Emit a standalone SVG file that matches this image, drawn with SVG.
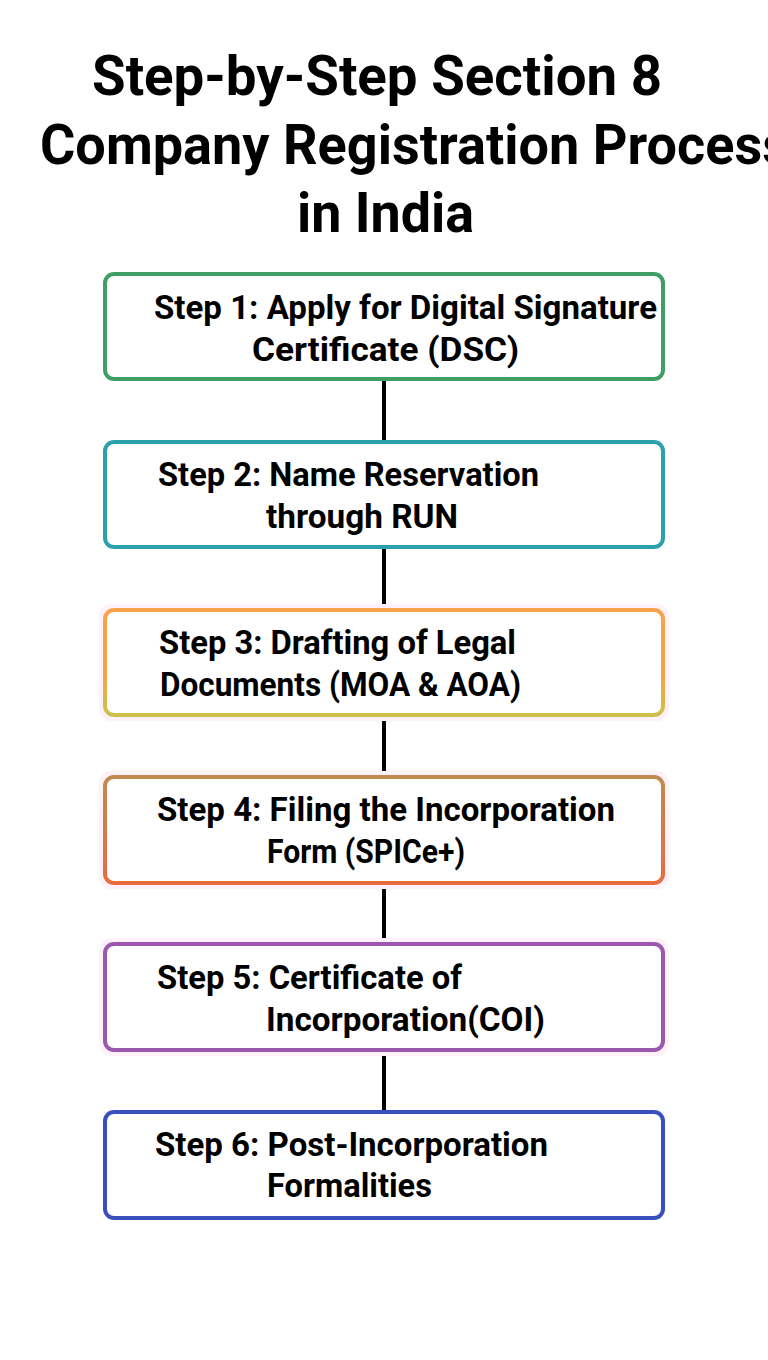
<svg xmlns="http://www.w3.org/2000/svg" width="768" height="1360" viewBox="0 0 768 1360">
<style>
.title{font-family:Roboto,"Liberation Sans",sans-serif;font-weight:700;font-size:55px;fill:#000}
.lbl{font-family:Roboto,"Liberation Sans",sans-serif;font-weight:700;font-size:33px;fill:#000}
.box{fill:#fff;stroke-width:4}
.halo{fill:#fdf2f9}
.conn{stroke:#000;stroke-width:4;fill:none}
</style>
<defs>
<linearGradient id="g3" x1="0" y1="0" x2="0" y2="1">
<stop offset="0" stop-color="#f9a24c"/><stop offset="0.6" stop-color="#f6a34a"/><stop offset="1" stop-color="#cfc04e"/>
</linearGradient>
<linearGradient id="g4" x1="0" y1="0" x2="0" y2="1">
<stop offset="0" stop-color="#c18a50"/><stop offset="1" stop-color="#e96c40"/>
</linearGradient>
</defs>
<rect width="768" height="1360" fill="#fff"/>
<g id="title">
<text class="title" x="92" y="95" textLength="570" lengthAdjust="spacingAndGlyphs">Step-by-Step Section 8</text>
<text class="title" x="40" y="164" textLength="750" lengthAdjust="spacingAndGlyphs">Company Registration Process</text>
<text class="title" x="297" y="232" textLength="177" lengthAdjust="spacingAndGlyphs">in India</text>
</g>
<g id="connectors">
<line class="conn" x1="384" y1="379" x2="384" y2="442"/>
<line class="conn" x1="384" y1="547" x2="384" y2="609"/>
<line class="conn" x1="384" y1="715" x2="384" y2="777"/>
<line class="conn" x1="384" y1="883" x2="384" y2="944"/>
<line class="conn" x1="384" y1="1050" x2="384" y2="1112"/>
</g>
<g id="step1">
<rect class="box" x="105" y="274" width="558" height="105" rx="9" stroke="#3f9e63"/>
<text class="lbl" x="154" y="319" textLength="503" lengthAdjust="spacingAndGlyphs">Step 1: Apply for Digital Signature</text>
<text class="lbl" x="252" y="361" textLength="267" lengthAdjust="spacingAndGlyphs">Certificate (DSC)</text>
</g>
<g id="step2">
<rect class="box" x="105" y="442" width="558" height="105" rx="9" stroke="#2ba2ab"/>
<text class="lbl" x="158" y="486" textLength="381" lengthAdjust="spacingAndGlyphs">Step 2: Name Reservation</text>
<text class="lbl" x="266" y="528" textLength="192" lengthAdjust="spacingAndGlyphs">through RUN</text>
</g>
<g id="step3">
<rect class="halo" x="99" y="604" width="570" height="117" rx="12"/>
<rect class="box" x="105" y="610" width="558" height="105" rx="9" stroke="url(#g3)"/>
<text class="lbl" x="159" y="654" textLength="357" lengthAdjust="spacingAndGlyphs">Step 3: Drafting of Legal</text>
<text class="lbl" x="160" y="696" textLength="361" lengthAdjust="spacingAndGlyphs">Documents (MOA &amp; AOA)</text>
</g>
<g id="step4">
<rect class="halo" x="99" y="771" width="570" height="118" rx="12"/>
<rect class="box" x="105" y="777" width="558" height="106" rx="9" stroke="url(#g4)"/>
<text class="lbl" x="157" y="821" textLength="458" lengthAdjust="spacingAndGlyphs">Step 4: Filing the Incorporation</text>
<text class="lbl" x="267" y="863" textLength="198" lengthAdjust="spacingAndGlyphs">Form (SPICe+)</text>
</g>
<g id="step5">
<rect class="halo" x="99" y="938" width="570" height="118" rx="12"/>
<rect class="box" x="105" y="944" width="558" height="106" rx="9" stroke="#9a58ae"/>
<text class="lbl" x="157" y="989" textLength="305" lengthAdjust="spacingAndGlyphs">Step 5: Certificate of</text>
<text class="lbl" x="266" y="1031" textLength="279" lengthAdjust="spacingAndGlyphs">Incorporation(COI)</text>
</g>
<g id="step6">
<rect class="box" x="105" y="1112" width="558" height="106" rx="9" stroke="#3a4fbe"/>
<text class="lbl" x="155" y="1156" textLength="393" lengthAdjust="spacingAndGlyphs">Step 6: Post-Incorporation</text>
<text class="lbl" x="267" y="1197" textLength="165" lengthAdjust="spacingAndGlyphs">Formalities</text>
</g>
</svg>
